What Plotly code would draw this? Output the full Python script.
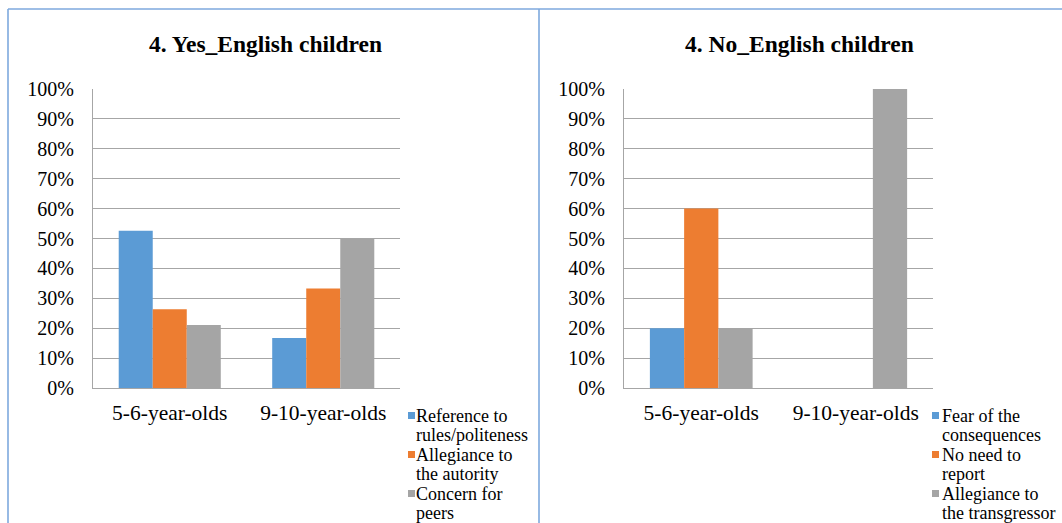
import plotly.graph_objects as go

# Age groups on the category axis
categories = ["5-6-year-olds", "9-10-year-olds"]

# Percentages per reason, "Yes" answers
yes_rules = [52.6, 16.7]
yes_authority = [26.3, 33.3]
yes_peers = [21.1, 50.0]

# Percentages per reason, "No" answers
no_fear = [20.0, 0.0]
no_no_need = [60.0, 0.0]
no_transgressor = [20.0, 100.0]

# Legend labels, split over two lines each
yes_labels = [["Reference to", "rules/politeness"],
              ["Allegiance to", "the autority"],
              ["Concern for", "peers"]]
no_labels = [["Fear of the", "consequences"],
             ["No need to", "report"],
             ["Allegiance to", "the transgressor"]]

titles = ["4. Yes_English children", "4. No_English children"]
y_ticks = [0, 10, 20, 30, 40, 50, 60, 70, 80, 90, 100]

colors = ["#5B9BD5", "#ED7D31", "#A5A5A5"]
FONT = "Liberation Serif, Times New Roman, serif"
W, H = 1062, 523
GRID = "#A6A6A6"


def px(x):
    return x / W


def py(y):
    return 1 - y / H


fig = go.Figure()

yes_series = [yes_rules, yes_authority, yes_peers]
no_series = [no_fear, no_no_need, no_transgressor]

for vals, lab, col in zip(yes_series, yes_labels, colors):
    fig.add_trace(go.Bar(x=categories, y=vals, name=" ".join(lab),
                         marker=dict(color=col, line=dict(width=0)),
                         xaxis="x", yaxis="y", showlegend=False))
for vals, lab, col in zip(no_series, no_labels, colors):
    fig.add_trace(go.Bar(x=categories, y=vals, name=" ".join(lab),
                         marker=dict(color=col, line=dict(width=0)),
                         xaxis="x2", yaxis="y2", showlegend=False))

y_dom = [py(388), py(89)]
axis_common = dict(showline=True, linecolor=GRID, linewidth=1,
                   automargin=False, fixedrange=True)
yaxis_common = dict(axis_common, range=[0, 100], tickvals=y_ticks,
                    ticktext=[f"{v}%" for v in y_ticks], showgrid=True,
                    gridcolor=GRID, gridwidth=1, ticks="",
                    ticklabelstandoff=14, zeroline=False,
                    tickfont=dict(family=FONT, size=20, color="#000000"))
xaxis_common = dict(axis_common, ticks="", ticklabelstandoff=5,
                    showgrid=False,
                    tickfont=dict(family=FONT, size=21.5, color="#000000"))

fig.update_layout(
    template="none",
    width=W, height=H, autosize=False,
    margin=dict(l=0, r=0, t=0, b=0, pad=0, autoexpand=False),
    paper_bgcolor="white", plot_bgcolor="white",
    barmode="group", bargap=0.335, bargroupgap=0,
    showlegend=False,
    xaxis=dict(xaxis_common, domain=[px(93), px(400)], anchor="y"),
    yaxis=dict(yaxis_common, domain=y_dom, anchor="x"),
    xaxis2=dict(xaxis_common, domain=[px(624), px(933)], anchor="y2"),
    yaxis2=dict(yaxis_common, domain=y_dom, anchor="x2"),
)

# Panel frames
frame = dict(color="#7EA9DE", width=1.6)
fig.add_shape(type="line", xref="paper", yref="paper",
              x0=px(8), x1=px(8), y0=py(9), y1=0, line=frame)
fig.add_shape(type="line", xref="paper", yref="paper",
              x0=px(8), x1=1, y0=py(9), y1=py(9), line=frame)
fig.add_shape(type="line", xref="paper", yref="paper",
              x0=px(539), x1=px(539), y0=py(9), y1=0, line=frame)

# Chart titles
for title, cx in zip(titles, [265, 799]):
    fig.add_annotation(text=f"<b>{title}</b>", xref="paper", yref="paper",
                       x=px(cx), y=py(44), xanchor="center", yanchor="middle",
                       showarrow=False,
                       font=dict(family=FONT, size=23.5, color="#000000"))


# Legends: colour square followed by two lines of text per series
def add_legend(labels, text_x, sq_x):
    for i, (lines, col) in enumerate(zip(labels, colors)):
        first = 416 + i * 39
        fig.add_shape(type="rect", xref="paper", yref="paper",
                      x0=px(sq_x), x1=px(sq_x + 7),
                      y0=py(first + 3), y1=py(first - 4),
                      fillcolor=col, line=dict(width=0))
        for j, line in enumerate(lines):
            fig.add_annotation(text=line, xref="paper", yref="paper",
                               x=px(text_x), y=py(first + j * 19),
                               xanchor="left", yanchor="middle",
                               showarrow=False, borderpad=0,
                               font=dict(family=FONT, size=18,
                                         color="#000000"))


add_legend(yes_labels, 415, 408)
add_legend(no_labels, 941, 932)

fig.write_html("out.html")
